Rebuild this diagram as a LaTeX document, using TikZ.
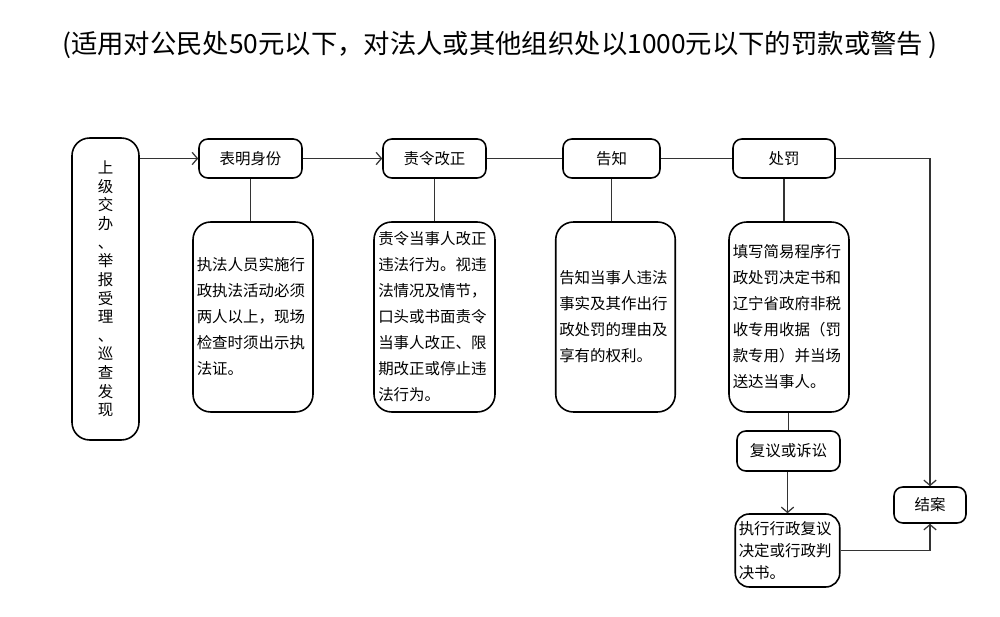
\documentclass[tikz,border=0pt]{standalone}
\usepackage{fontspec}
\setmainfont{Noto Sans CJK SC}
\usetikzlibrary{arrows.meta}
\begin{document}
\begin{tikzpicture}[x=0.02cm,y=-0.02cm,
  box/.style={draw,line width=0.9pt,rounded corners=5pt,inner sep=2pt,font=\fontsize{8.8}{14.8}\selectfont},
  det/.style={box,rounded corners=10pt,minimum width=2.4cm,minimum height=3.8cm,text width=2.25cm,align=left},
  ln/.style={draw=black!80,line width=0.7pt},
  arr/.style={ln,-{Straight Barb[length=3pt,width=7pt]}}]
\useasboundingbox (0,0) rectangle (1000,617);
\node[font=\fontsize{15}{18}\selectfont] (title) at (500,45) {(适用对公民处50元以下，对法人或其他组织处以1000元以下的罚款或警告 )};
\node[box,rounded corners=10pt,minimum width=1.34cm,minimum height=6.04cm,align=center,font=\fontsize{8.8}{10.6}\selectfont] (src) at (105.5,289) {上\\级\\交\\办\\、\\举\\报\\受\\理\\、\\巡\\查\\发\\现};
\node[box,minimum width=2.06cm,minimum height=0.78cm] (b1) at (250.5,158.5) {表明身份};
\node[box,minimum width=2.06cm,minimum height=0.78cm] (b2) at (434.5,158.5) {责令改正};
\node[box,minimum width=1.94cm,minimum height=0.78cm] (b3) at (611.5,158.5) {告知};
\node[box,minimum width=2.04cm,minimum height=0.78cm] (b4) at (784,158.5) {处罚};
\node[det] (d1) at (253,317) {执法人员实施行\\政执法活动必须\\两人以上，现场\\检查时须出示执\\法证。};
\node[det,minimum width=2.42cm] (d2) at (434.5,317) {责令当事人改正\\违法行为。视违\\法情况及情节，\\口头或书面责令\\当事人改正、限\\期改正或停止违\\法行为。};
\node[det,minimum width=2.38cm] (d3) at (615.5,317) {告知当事人违法\\事实及其作出行\\政处罚的理由及\\享有的权利。};
\node[det] (d4) at (789,317) {填写简易程序行\\政处罚决定书和\\辽宁省政府非税\\收专用收据（罚\\款专用）并当场\\送达当事人。};
\node[box,minimum width=2.06cm,minimum height=0.8cm] (fy) at (788.5,451) {复议或诉讼};
\node[box,rounded corners=8pt,minimum width=2.06cm,minimum height=1.46cm,text width=1.95cm,align=left,font=\fontsize{8.8}{12.5}\selectfont] (zx) at (787.5,550.5) {执行行政复议\\决定或行政判\\决书。};
\node[box,minimum width=1.44cm,minimum height=0.72cm] (ja) at (930,505) {结案};
\coordinate (c1) at (930,158.5);
\draw[arr] (src.east |- b1) -- (b1.west);
\draw[arr] (b1.east) -- (b2.west);
\draw[ln] (b2.east) -- (b3.west);
\draw[ln] (b3.east) -- (b4.west);
\draw[arr] (b4.east) -- (c1) -- (ja.north);
\draw[ln] (b1.south) -- (b1.south |- d1.north);
\draw[ln] (b2.south) -- (b2.south |- d2.north);
\draw[ln] (b3.south) -- (b3.south |- d3.north);
\draw[ln] (b4.south) -- (b4.south |- d4.north);
\draw[ln] (d4.south -| fy.north) -- (fy.north);
\draw[arr] (zx.north |- fy.south) -- (zx.north);
\draw[arr] (zx.east) -| (ja.south);
\end{tikzpicture}
\end{document}
